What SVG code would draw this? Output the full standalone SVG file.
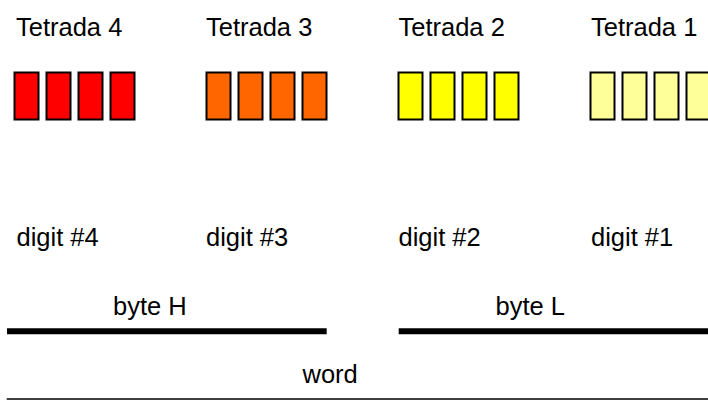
<svg xmlns="http://www.w3.org/2000/svg" width="708" height="400" viewBox="0 0 708 400">
<style>
text{font-family:"Liberation Sans",Arial,sans-serif;font-size:25.5px;fill:#000}
.b{stroke:#000;stroke-width:2}
.t4{fill:#FF0000}.t3{fill:#FF6600}.t2{fill:#FFFF00}.t1{fill:#FFFF99}
</style>
<defs>
<g id="nib"><rect x="0" y="0" width="24" height="47"/><rect x="32" y="0" width="24" height="47"/><rect x="64" y="0" width="24" height="47"/><rect x="96" y="0" width="24" height="47"/></g>
</defs>
<rect width="708" height="400" fill="#fff"/>
<g id="tetrada4"><text x="16" y="35.5">Tetrada 4</text><use href="#nib" x="14.5" y="72.5" class="b t4"/></g>
<g id="tetrada3"><text x="206" y="35.5">Tetrada 3</text><use href="#nib" x="206.5" y="72.5" class="b t3"/></g>
<g id="tetrada2"><text x="398.5" y="35.5">Tetrada 2</text><use href="#nib" x="398.5" y="72.5" class="b t2"/></g>
<g id="tetrada1"><text x="591" y="35.5">Tetrada 1</text><use href="#nib" x="590.5" y="72.5" class="b t1"/></g>
<g id="digit4"><text x="16.5" y="246">digit #4</text></g>
<g id="digit3"><text x="206" y="246">digit #3</text></g>
<g id="digit2"><text x="398.5" y="246">digit #2</text></g>
<g id="digit1"><text x="591" y="246">digit #1</text></g>
<g id="byteH"><text x="113" y="315">byte H</text></g>
<g id="byteL"><text x="495.5" y="315">byte L</text></g>
<g id="word"><text x="302.5" y="383">word</text></g>
<g id="connectors" stroke="#000">
<line x1="7" y1="331.3" x2="326.7" y2="331.3" stroke-width="6"/>
<line x1="398.7" y1="331.3" x2="708" y2="331.3" stroke-width="6"/>
<line x1="6.7" y1="399" x2="708" y2="399" stroke-width="1.4"/>
</g>
</svg>
